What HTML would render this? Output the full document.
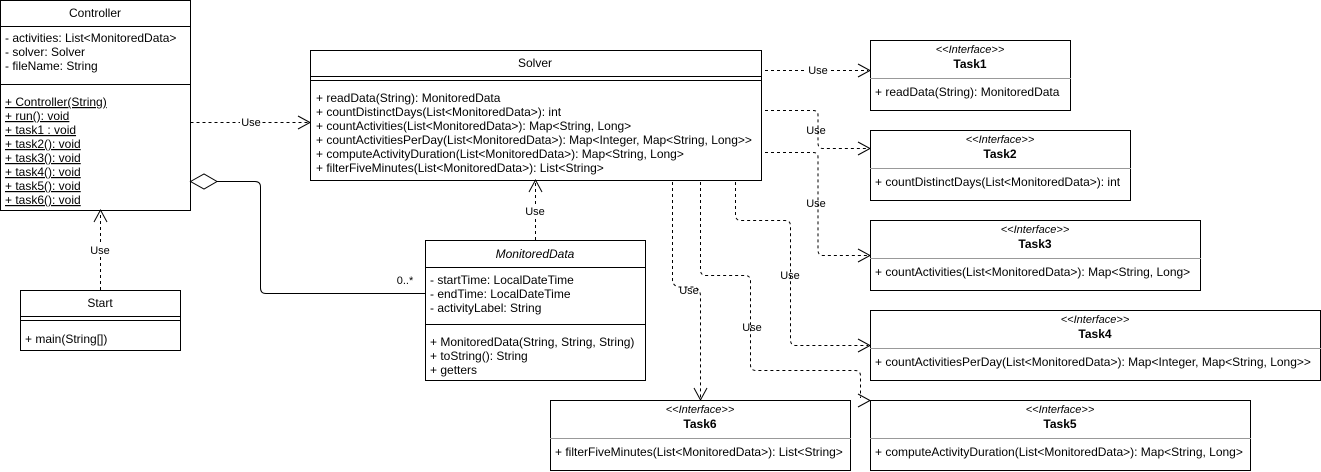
<!DOCTYPE html>
<html><head><meta charset="utf-8"><style>
html,body{margin:0;padding:0;background:#fff;}
svg{display:block;}
text{font-family:"Liberation Sans",sans-serif;font-size:12px;fill:#000;}
.c{text-anchor:middle;}
.it{font-style:italic;}
.b{font-weight:bold;font-size:12px;}
.s{font-size:11px;font-style:italic;}
.u{text-decoration:underline;}
.lbl{text-anchor:middle;font-size:11px;}
</style></head><body>
<svg width="1321" height="472" viewBox="0 0 1321 472" xmlns="http://www.w3.org/2000/svg">
<g fill="#fff" stroke="#000" stroke-width="1">
<rect x="0.5" y="0.5" width="190" height="210"/>
<line x1="0" y1="26.5" x2="190" y2="26.5"/>
<line x1="0" y1="84.5" x2="190" y2="84.5"/>
<rect x="310.5" y="50.5" width="451" height="130"/>
<line x1="310" y1="76.5" x2="761" y2="76.5"/>
<line x1="310" y1="80.5" x2="761" y2="80.5"/>
<rect x="20.5" y="290.5" width="160" height="60"/>
<line x1="20" y1="316.5" x2="180" y2="316.5"/>
<line x1="20" y1="320.5" x2="180" y2="320.5"/>
<rect x="425.5" y="240.5" width="220" height="140"/>
<line x1="425" y1="267.5" x2="645" y2="267.5"/>
<line x1="425" y1="324.5" x2="645" y2="324.5"/>
<rect x="870.5" y="40.5" width="200" height="70"/>
<rect x="870.5" y="130.5" width="260" height="70"/>
<rect x="870.5" y="220.5" width="330" height="70"/>
<rect x="870.5" y="310.5" width="450" height="70"/>
<rect x="870.5" y="400.5" width="380" height="70"/>
<rect x="550.5" y="400.5" width="300" height="70"/>
</g>
<g stroke="#999" stroke-width="1">
<line x1="870" y1="78.5" x2="1071" y2="78.5"/>
<line x1="870" y1="168.5" x2="1131" y2="168.5"/>
<line x1="870" y1="258.5" x2="1201" y2="258.5"/>
<line x1="870" y1="348.5" x2="1321" y2="348.5"/>
<line x1="870" y1="438.5" x2="1251" y2="438.5"/>
<line x1="550" y1="438.5" x2="851" y2="438.5"/>
</g>

<g fill="none" stroke="#000" stroke-width="1" stroke-dasharray="3,3">
<path d="M190.5 122.5 H308"/>
<path d="M100.5 290 V212"/>
<path d="M535.5 240 V182"/>
<path d="M765 70.5 H868"/>
<path d="M765 110.5 H813 Q818 110.5 818 115 V143 Q818 148.5 823 148.5 H868"/>
<path d="M765 152.5 H813 Q818 152.5 818 157 V250 Q818 255.5 823 255.5 H868"/>
<path d="M735.5 182 V215 Q735.5 220.5 741 220.5 H785 Q790.5 220.5 790.5 226 V340 Q790.5 345.5 796 345.5 H868"/>
<path d="M700.5 182 V270 Q700.5 275.5 706 275.5 H745 Q750.5 275.5 750.5 281 V365 Q750.5 370.5 756 370.5 H855 Q860.5 370.5 860.5 376 V398"/>
<path d="M672.5 182 V280 Q672.5 285 678 287 H695 Q700.5 290 700.5 296 V398"/>
</g>
<g fill="none" stroke="#000" stroke-width="1">
<path d="M298 116 L310 122.5 L298 129"/>
<path d="M94 222 L100.5 210 L107 222"/>
<path d="M529 192 L535.5 180 L542 192"/>
<path d="M858 64 L870 70.5 L858 77"/>
<path d="M858 142 L870 148.5 L858 155"/>
<path d="M858 249 L870 255.5 L858 262"/>
<path d="M858 339 L870 345.5 L858 352"/>
<path d="M858 394 L870 400.5 L858 407"/>
<path d="M694 388 L700.5 400 L707 388"/>
<path d="M217 181.5 H255 Q260.5 181.5 260.5 187 V288 Q260.5 293.5 266 293.5 H425"/>
<path d="M190.5 181.5 L204 174 L217 181.5 L204 189 Z" fill="#fff"/>
</g>
<g fill="#fff">
<rect x="240" y="116" width="22" height="12"/>
<rect x="89" y="244" width="22" height="12"/>
<rect x="524" y="205" width="22" height="12"/>
<rect x="807" y="64" width="22" height="12"/>
</g>
<g>
<text x="251" y="126" class="lbl">Use</text>
<text x="100" y="254" class="lbl">Use</text>
<text x="535" y="215" class="lbl">Use</text>
<text x="818" y="74" class="lbl">Use</text>
<text x="816" y="134" class="lbl">Use</text>
<text x="816" y="207" class="lbl">Use</text>
<text x="790" y="279" class="lbl">Use</text>
<text x="752" y="331" class="lbl">Use</text>
<text x="689" y="294" class="lbl">Use</text>
<text x="405" y="284" class="lbl">0..*</text>
</g>

<text x="95" y="17" class="c">Controller</text>
<text x="5" y="42">- activities: List&lt;MonitoredData&gt;</text>
<text x="5" y="56">- solver: Solver</text>
<text x="5" y="70">- fileName: String</text>
<text x="5" y="106" class="u">+ Controller(String)</text>
<text x="5" y="120" class="u">+ run(): void</text>
<text x="5" y="134" class="u">+ task1 : void</text>
<text x="5" y="148" class="u">+ task2(): void</text>
<text x="5" y="162" class="u">+ task3(): void</text>
<text x="5" y="176" class="u">+ task4(): void</text>
<text x="5" y="190" class="u">+ task5(): void</text>
<text x="5" y="204" class="u">+ task6(): void</text>

<text x="535" y="67" class="c">Solver</text>
<text x="316" y="102">+ readData(String): MonitoredData</text>
<text x="316" y="116">+ countDistinctDays(List&lt;MonitoredData&gt;): int</text>
<text x="316" y="130">+ countActivities(List&lt;MonitoredData&gt;): Map&lt;String, Long&gt;</text>
<text x="316" y="144">+ countActivitiesPerDay(List&lt;MonitoredData&gt;): Map&lt;Integer, Map&lt;String, Long&gt;&gt;</text>
<text x="316" y="158">+ computeActivityDuration(List&lt;MonitoredData&gt;): Map&lt;String, Long&gt;</text>
<text x="316" y="172">+ filterFiveMinutes(List&lt;MonitoredData&gt;): List&lt;String&gt;</text>

<text x="100" y="307" class="c">Start</text>
<text x="25" y="343">+ main(String[])</text>

<text x="535" y="258" class="c it">MonitoredData</text>
<text x="430" y="284">- startTime: LocalDateTime</text>
<text x="430" y="298">- endTime: LocalDateTime</text>
<text x="430" y="312">- activityLabel: String</text>
<text x="430" y="346">+ MonitoredData(String, String, String)</text>
<text x="430" y="360">+ toString(): String</text>
<text x="430" y="374">+ getters</text>

<text x="970" y="53" class="c s">&lt;&lt;Interface&gt;&gt;</text>
<text x="970" y="68" class="c b">Task1</text>
<text x="875" y="96">+ readData(String): MonitoredData</text>

<text x="1000" y="143" class="c s">&lt;&lt;Interface&gt;&gt;</text>
<text x="1000" y="158" class="c b">Task2</text>
<text x="875" y="186">+ countDistinctDays(List&lt;MonitoredData&gt;): int</text>

<text x="1035" y="233" class="c s">&lt;&lt;Interface&gt;&gt;</text>
<text x="1035" y="248" class="c b">Task3</text>
<text x="875" y="276">+ countActivities(List&lt;MonitoredData&gt;): Map&lt;String, Long&gt;</text>

<text x="1095" y="323" class="c s">&lt;&lt;Interface&gt;&gt;</text>
<text x="1095" y="338" class="c b">Task4</text>
<text x="875" y="366">+ countActivitiesPerDay(List&lt;MonitoredData&gt;): Map&lt;Integer, Map&lt;String, Long&gt;&gt;</text>

<text x="1060" y="413" class="c s">&lt;&lt;Interface&gt;&gt;</text>
<text x="1060" y="428" class="c b">Task5</text>
<text x="875" y="456">+ computeActivityDuration(List&lt;MonitoredData&gt;): Map&lt;String, Long&gt;</text>

<text x="700" y="413" class="c s">&lt;&lt;Interface&gt;&gt;</text>
<text x="700" y="428" class="c b">Task6</text>
<text x="555" y="456">+ filterFiveMinutes(List&lt;MonitoredData&gt;): List&lt;String&gt;</text>
</svg>
</body></html>
